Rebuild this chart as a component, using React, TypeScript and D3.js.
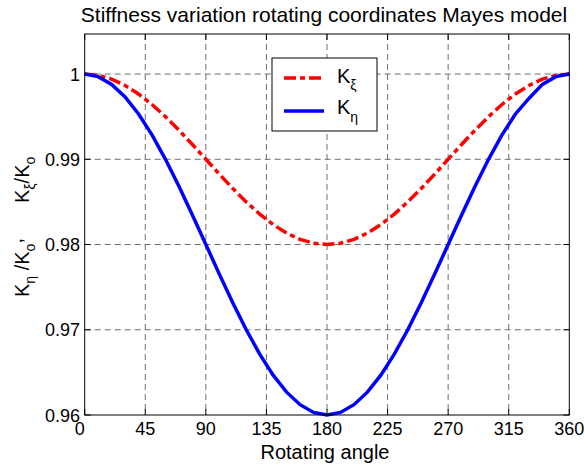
import React from "react";
import * as d3 from "d3";

const angles = [0, 10, 20, 30, 40, 50, 60, 70, 80, 90, 100, 110, 120, 130, 140, 150, 160, 170, 180,
  190, 200, 210, 220, 230, 240, 250, 260, 270, 280, 290, 300, 310, 320, 330, 340, 350, 360];
const kXi = [1.0, 0.99985, 0.9994, 0.99866, 0.99766, 0.99643, 0.995, 0.99342, 0.99174, 0.99,
  0.98826, 0.98658, 0.985, 0.98357, 0.98234, 0.98134, 0.9806, 0.98015, 0.98,
  0.98015, 0.9806, 0.98134, 0.98234, 0.98357, 0.985, 0.98658, 0.98826, 0.99,
  0.99174, 0.99342, 0.995, 0.99643, 0.99766, 0.99866, 0.9994, 0.99985, 1.0];
const kEta = [1.0, 0.9997, 0.99879, 0.99732, 0.99532, 0.99286, 0.99, 0.98684, 0.98347, 0.98,
  0.97653, 0.97316, 0.97, 0.96714, 0.96468, 0.96268, 0.96121, 0.9603, 0.96,
  0.9603, 0.96121, 0.96268, 0.96468, 0.96714, 0.97, 0.97316, 0.97653, 0.98,
  0.98347, 0.98684, 0.99, 0.99286, 0.99532, 0.99714, 0.99879, 0.9997, 1.0];
const xTicks = [0, 45, 90, 135, 180, 225, 270, 315, 360];
const yTicks = [0.96, 0.97, 0.98, 0.99, 1];
const yTickLabels = ["0.96", "0.97", "0.98", "0.99", "1"];
const titleText = "Stiffness variation rotating coordinates Mayes model";
const xLabel = "Rotating angle";

const W = 584, H = 464;
const L = 84.7, R = 569.3, T = 34, B = 415;
const FONT = "'Liberation Sans', Arial, Helvetica, sans-serif";

export default function App() {
  const x = d3.scaleLinear().domain([0, 360]).range([L, R]);
  const y = d3.scaleLinear().domain([0.96, 1.0047]).range([B, T]);
  const lineXi = d3.line<number>().x((_, i) => x(angles[i])).y((d) => y(d))(kXi) || "";
  const lineEta = d3.line<number>().x((_, i) => x(angles[i])).y((d) => y(d))(kEta) || "";
  const grid = "#6e6e6e";
  const tl = 6;
  return (
    <div style={{ position: "absolute", left: 0, top: 0 }}>
      <svg width={W} height={H} style={{ display: "block", background: "#fff" }} fontFamily={FONT}>
        <rect x={0} y={0} width={W} height={H} fill="#fff" />
        {/* grid */}
        {xTicks.slice(1, -1).map((t) => (
          <line key={"gx" + t} x1={x(t)} x2={x(t)} y1={T} y2={B} stroke={grid} strokeWidth={1} strokeDasharray="6,4" />
        ))}
        {yTicks.slice(1).map((t) => (
          <line key={"gy" + t} x1={L} x2={R} y1={y(t)} y2={y(t)} stroke={grid} strokeWidth={1} strokeDasharray="6,4" />
        ))}
        {/* ticks */}
        {xTicks.map((t) => (
          <g key={"tx" + t}>
            <line x1={x(t)} x2={x(t)} y1={B} y2={B - tl} stroke="#000" />
            <line x1={x(t)} x2={x(t)} y1={T} y2={T + tl} stroke="#000" />
          </g>
        ))}
        {yTicks.map((t) => (
          <g key={"ty" + t}>
            <line x1={L} x2={L + tl} y1={y(t)} y2={y(t)} stroke="#000" />
            <line x1={R} x2={R - tl} y1={y(t)} y2={y(t)} stroke="#000" />
          </g>
        ))}
        {/* curves */}
        <path d={lineXi} fill="none" stroke="#ff0000" strokeWidth={3.5} strokeDasharray="12,4,5,4" />
        <path d={lineEta} fill="none" stroke="#0000ff" strokeWidth={3.5} />
        {/* frame */}
        <rect x={L} y={T} width={R - L} height={B - T} fill="none" stroke="#000" strokeWidth={1} />
        {/* tick labels */}
        {xTicks.map((t) => (
          <text key={"lx" + t} x={t === 0 ? x(t) - 5 : x(t)} y={435} textAnchor="middle" fontSize={18} fill="#000">
            {t}
          </text>
        ))}
        {yTicks.map((t, i) => (
          <text key={"ly" + t} x={80} y={y(t) + 6.5} textAnchor="end" fontSize={18} fill="#000">
            {yTickLabels[i]}
          </text>
        ))}
        {/* title & labels */}
        <text x={324} y={22} textAnchor="middle" fontSize={21} fill="#000">{titleText}</text>
        <text x={325} y={459} textAnchor="middle" fontSize={20} fill="#000">{xLabel}</text>
        <text transform="translate(29,297) rotate(-90)" fontSize={20} fill="#000">
          K<tspan fontSize={14} dy={6}>η</tspan>
          <tspan dy={-6}> /K</tspan>
          <tspan fontSize={14} dy={6}>o</tspan>
          <tspan dy={-13}>,</tspan>
        </text>
        <text transform="translate(29,203) rotate(-90)" fontSize={20} fill="#000">
          K<tspan fontSize={14} dy={6}>ξ</tspan>
          <tspan dy={-6}>/K</tspan>
          <tspan fontSize={14} dy={6}>o</tspan>
        </text>
        {/* legend */}
        <rect x={272} y={58} width={105} height={73} fill="#fff" stroke="#000" strokeWidth={1} />
        <line x1={284} x2={324} y1={78} y2={78} stroke="#ff0000" strokeWidth={3.5} strokeDasharray="12,4,5,4" />
        <line x1={284} x2={324} y1={111} y2={111} stroke="#0000ff" strokeWidth={3.5} />
        <text x={337} y={83} fontSize={20} fill="#000">
          K<tspan fontSize={14} dy={7}>ξ</tspan>
        </text>
        <text x={337} y={114} fontSize={20} fill="#000">
          K<tspan fontSize={14} dy={8}>η</tspan>
        </text>
      </svg>
    </div>
  );
}
